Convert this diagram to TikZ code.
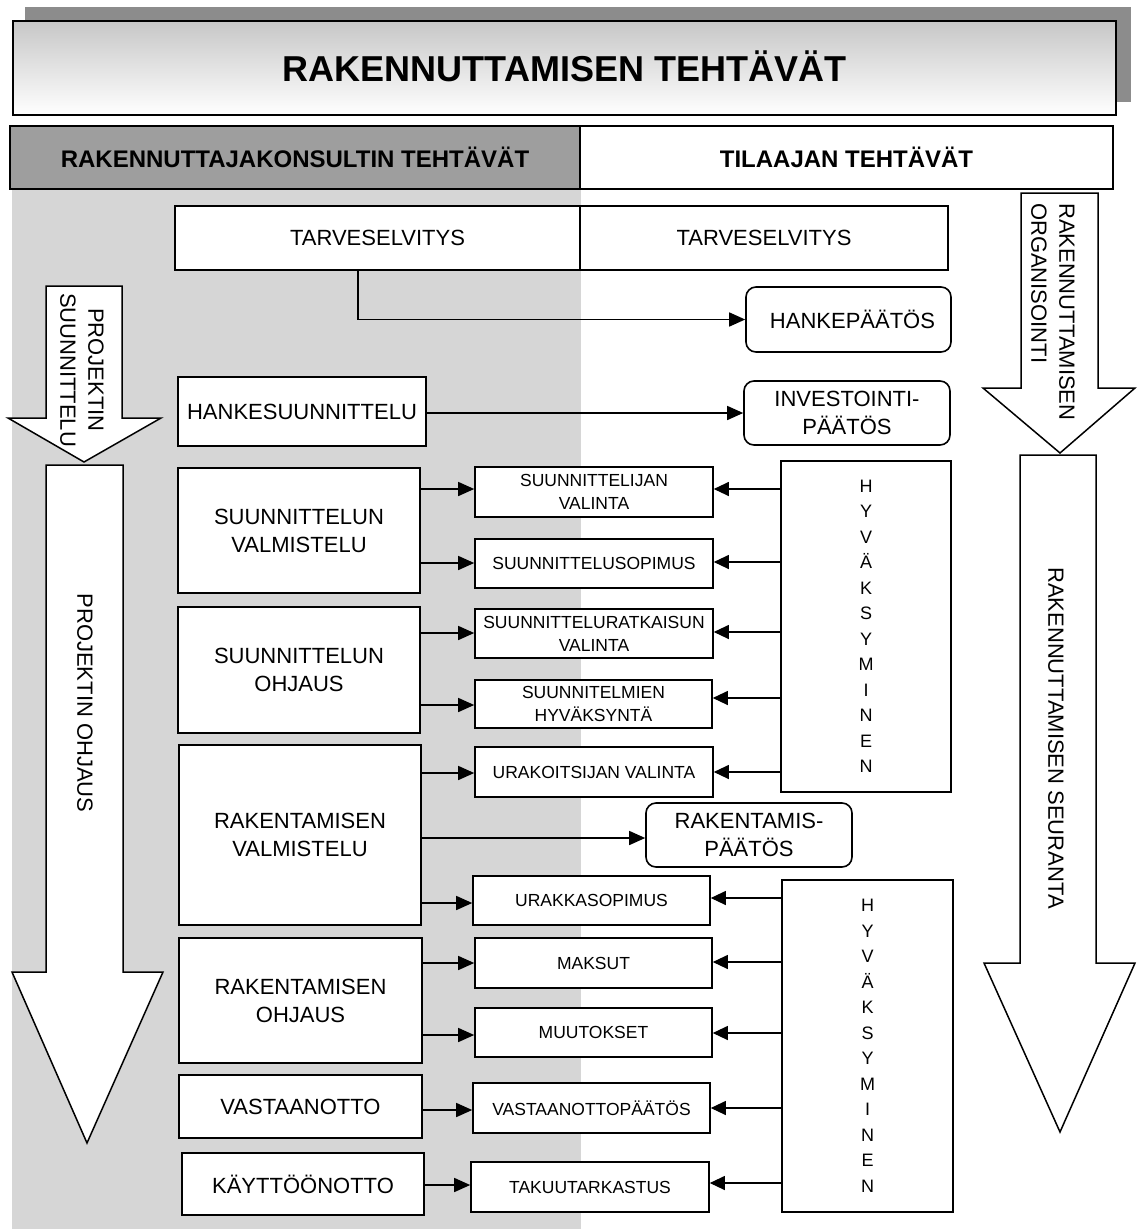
\documentclass[tikz,border=0pt]{standalone}
\usepackage{fontspec}
\setmainfont{Liberation Sans}
\usetikzlibrary{arrows.meta}
\newcommand\rkTitle{\fontsize{36}{40}\selectfont\bfseries}
\newcommand\rkHead{\fontsize{24}{28}\selectfont\bfseries}
\newcommand\rkMid{\fontsize{22}{28}\selectfont}
\newcommand\rkSmall{\fontsize{17.5}{23}\selectfont}
\newcommand\rkRot{\fontsize{22}{28}\selectfont}
\newcommand\rkHyv{\fontsize{18}{25.5}\selectfont}
\begin{document}
\begin{tikzpicture}[x=1pt,y=-1pt,
  sz/.style n args={2}{minimum width=#1pt, minimum height=#2pt},
  box/.style={draw=black, line width=1.8pt, fill=white, inner sep=0pt, align=center, font=\rkMid},
  sbox/.style={box, line width=1.6pt, font=\rkSmall},
  rbox/.style={box, line width=1.6pt, rounded corners=10pt},
  hbox/.style={box, line width=1.6pt, font=\rkHyv},
  bigarrow/.style={draw=black, line width=1.5pt, fill=white, line join=miter},
  rot/.style={rotate=-90, inner sep=0pt, font=\rkRot},
  arr/.style={line width=1.5pt, -{Triangle[length=16pt,width=14pt]}},
  harr/.style={line width=1.1pt, -{Triangle[length=15pt,width=14pt]}}
]
\useasboundingbox (0,0) rectangle (1136,1229);
\fill[white] (0,0) rectangle (1136,1229);

% left shaded band
\fill[black!16] (12,190) rectangle (581,1229);

% title with shadow
\fill[black!45] (25,7) rectangle (1131,102);
\node[sz={1103}{94}, draw=black, line width=2.6pt, top color=black!22, bottom color=white, inner sep=0pt, font=\rkTitle] (title) at (564.5,68) {\raisebox{3pt}{RAKENNUTTAMISEN TEHTÄVÄT}};

% header row
\node[sz={570}{63}, draw=black, line width=2pt, fill=black!38, inner sep=0pt, font=\rkHead] (hdrL) at (295,157.5) {RAKENNUTTAJAKONSULTIN TEHTÄVÄT};
\node[sz={533}{63}, draw=black, line width=1.5pt, fill=white, inner sep=0pt, font=\rkHead] (hdrR) at (846.5,157.5) {TILAAJAN TEHTÄVÄT};

% big arrows
\draw[bigarrow] (46,286) -- (122,286) -- (122,418) -- (161,418) -- (84,462) -- (8,418) -- (46,418) -- cycle;
\node[rot, align=center] (psuun) at (82,370) {PROJEKTIN\\SUUNNITTELU};
\draw[bigarrow] (46,465) -- (123,465) -- (123,972) -- (163,972) -- (87,1143) -- (12,972) -- (46,972) -- cycle;
\node[rot] (pohj) at (85,703) {PROJEKTIN OHJAUS};
\draw[bigarrow] (1021,193) -- (1098,193) -- (1098,388) -- (1135,388) -- (1060,453) -- (983,388) -- (1021,388) -- cycle;
\node[rot, align=left, anchor=west] (rorg) at (1053,203) {RAKENNUTTAMISEN\\ORGANISOINTI};
\draw[bigarrow] (1020,455) -- (1096,455) -- (1096,963) -- (1135,963) -- (1060,1132) -- (984,963) -- (1020,963) -- cycle;
\node[rot] (rseur) at (1056,738) {RAKENNUTTAMISEN SEURANTA};

% top boxes
\node[box, sz={405}{64}] (tarvL) at (377.5,238) {TARVESELVITYS};
\node[box, sz={368}{64}] (tarvR) at (764,238) {TARVESELVITYS};
\node[rbox, sz={205}{65}] (hanke) at (848.5,319.5) {\hspace{8pt}HANKEPÄÄTÖS};
\node[box, sz={248}{69}] (hsuun) at (302,411.5) {HANKESUUNNITTELU};
\node[rbox, sz={206}{64}] (invest) at (847,413) {INVESTOINTI-\\PÄÄTÖS};

% left column boxes
\node[box, sz={242}{125}] (sval) at (299,530.5) {SUUNNITTELUN\\VALMISTELU};
\node[box, sz={242}{126}] (soh) at (299,670) {SUUNNITTELUN\\OHJAUS};
\node[box, sz={242}{180}] (rval) at (300,835) {RAKENTAMISEN\\VALMISTELU};
\node[box, sz={243}{125}] (roh) at (300.5,1000.5) {RAKENTAMISEN\\OHJAUS};
\node[box, sz={243}{63}] (vast) at (300.5,1106.5) {VASTAANOTTO};
\node[box, sz={242}{62}] (kaytto) at (303,1184) {KÄYTTÖÖNOTTO};

% middle column boxes
\node[sbox, sz={238}{50}] (svalinta) at (594,492) {SUUNNITTELIJAN\\VALINTA};
\node[sbox, sz={238}{49}] (ssop) at (594,563.5) {SUUNNITTELUSOPIMUS};
\node[sbox, sz={238}{49}] (sratk) at (594,633.5) {SUUNNITTELURATKAISUN\\VALINTA};
\node[sbox, sz={237}{48}] (shyv) at (593.5,704) {SUUNNITELMIEN\\HYVÄKSYNTÄ};
\node[sbox, sz={238}{50}] (uval) at (594,772) {URAKOITSIJAN VALINTA};
\node[rbox, sz={206}{64}] (rpaat) at (749,835) {RAKENTAMIS-\\PÄÄTÖS};
\node[sbox, sz={237}{49}] (usop) at (591.5,900.5) {URAKKASOPIMUS};
\node[sbox, sz={237}{50}] (maksut) at (593.5,963) {MAKSUT};
\node[sbox, sz={237}{49}] (muut) at (593.5,1032.5) {MUUTOKSET};
\node[sbox, sz={237}{50}] (vastp) at (591.5,1108) {VASTAANOTTOPÄÄTÖS};
\node[sbox, sz={238}{50}] (takuu) at (590,1187) {TAKUUTARKASTUS};

% approval boxes
\node[hbox, sz={170}{331}] (hyv1) at (866,626.5) {H\\Y\\V\\Ä\\K\\S\\Y\\M\\I\\N\\E\\N};
\node[hbox, sz={171}{332}] (hyv2) at (867.5,1046) {H\\Y\\V\\Ä\\K\\S\\Y\\M\\I\\N\\E\\N};

% connectors
\draw[arr] ([xshift=-19.5pt]tarvL.south) |- (hanke.west);
\draw[arr] (hsuun.east |- invest.west) -- (invest.west);

\draw[arr] (sval.east |- 0,489) -- (svalinta.west |- 0,489);
\draw[arr] (sval.east |- 0,563) -- (ssop.west |- 0,563);
\draw[arr] (soh.east |- 0,633) -- (sratk.west |- 0,633);
\draw[arr] (soh.east |- 0,705) -- (shyv.west |- 0,705);
\draw[arr] (rval.east |- 0,773) -- (uval.west |- 0,773);
\draw[arr] (rval.east |- 0,838) -- (rpaat.west |- 0,838);
\draw[arr] (rval.east |- 0,903) -- (usop.west |- 0,903);
\draw[arr] (roh.east |- 0,963) -- (maksut.west |- 0,963);
\draw[arr] (roh.east |- 0,1035) -- (muut.west |- 0,1035);
\draw[arr] (vast.east |- 0,1110) -- (vastp.west |- 0,1110);
\draw[arr] (kaytto.east |- 0,1185) -- (takuu.west |- 0,1185);

\draw[harr] (hyv1.west |- 0,489) -- (svalinta.east |- 0,489);
\draw[harr] (hyv1.west |- 0,562) -- (ssop.east |- 0,562);
\draw[harr] (hyv1.west |- 0,632) -- (sratk.east |- 0,632);
\draw[harr] (hyv1.west |- 0,698) -- (shyv.east |- 0,698);
\draw[harr] (hyv1.west |- 0,772) -- (uval.east |- 0,772);
\draw[harr] (hyv2.west |- 0,898) -- (usop.east |- 0,898);
\draw[harr] (hyv2.west |- 0,962) -- (maksut.east |- 0,962);
\draw[harr] (hyv2.west |- 0,1033) -- (muut.east |- 0,1033);
\draw[harr] (hyv2.west |- 0,1108) -- (vastp.east |- 0,1108);
\draw[harr] (hyv2.west |- 0,1183) -- (takuu.east |- 0,1183);
\end{tikzpicture}
\end{document}
